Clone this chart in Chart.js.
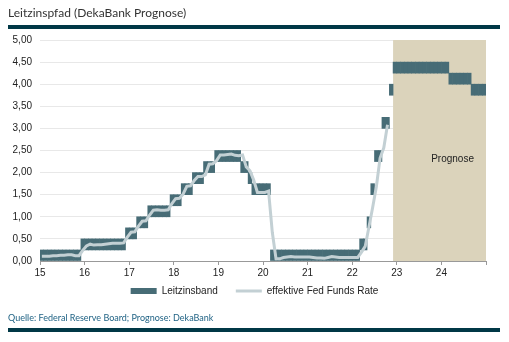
<!DOCTYPE html>
<html><head><meta charset="utf-8">
<script src="https://cdn.jsdelivr.net/npm/chart.js@4.4.1/dist/chart.umd.min.js"></script>
<style>
html,body{margin:0;padding:0;background:#fff;width:509px;height:342px;overflow:hidden;position:relative;}
#c{position:absolute;left:0;top:0;}
#title{position:absolute;left:8px;top:5px;font:12px Lato,sans-serif;color:#333;white-space:nowrap;}
.rule{position:absolute;left:8px;width:492px;height:4px;background:#003846;}
#src{position:absolute;left:8px;top:312px;font:9px Lato,sans-serif;color:#1f6284;white-space:nowrap;}
</style></head><body>
<canvas id="c" width="509" height="319"></canvas>
<div id="title">Leitzinspfad (DekaBank Prognose)</div>
<div class="rule" style="top:25px"></div>
<div id="src">Quelle: Federal Reserve Board; Prognose: DekaBank</div>
<div class="rule" style="top:328px"></div>
<script>
// Monthly values, Jan 2015 .. Dec 2024 (Leitzinsband lower / upper bound, %)
const bandLow = [
  0,0,0,0,0,0,0,0,0,0,0,0.25,
  0.25,0.25,0.25,0.25,0.25,0.25,0.25,0.25,0.25,0.25,0.25,0.5,
  0.5,0.5,0.75,0.75,0.75,1.0,1.0,1.0,1.0,1.0,1.0,1.25,
  1.25,1.25,1.5,1.5,1.5,1.75,1.75,1.75,2.0,2.0,2.0,2.25,
  2.25,2.25,2.25,2.25,2.25,2.25,2.0,2.0,1.75,1.5,1.5,1.5,
  1.5,1.5,0,0,0,0,0,0,0,0,0,0,
  0,0,0,0,0,0,0,0,0,0,0,0,
  0,0,0.25,0.25,0.75,1.5,2.25,2.25,3.0,3.0,3.75,4.25,
  4.25,4.25,4.25,4.25,4.25,4.25,4.25,4.25,4.25,4.25,4.25,4.25,
  4.25,4.25,4.0,4.0,4.0,4.0,4.0,4.0,3.75,3.75,3.75,3.75
];
const bandHigh = [
  0.25,0.25,0.25,0.25,0.25,0.25,0.25,0.25,0.25,0.25,0.25,0.5,
  0.5,0.5,0.5,0.5,0.5,0.5,0.5,0.5,0.5,0.5,0.5,0.75,
  0.75,0.75,1.0,1.0,1.0,1.25,1.25,1.25,1.25,1.25,1.25,1.5,
  1.5,1.5,1.75,1.75,1.75,2.0,2.0,2.0,2.25,2.25,2.25,2.5,
  2.5,2.5,2.5,2.5,2.5,2.5,2.25,2.25,2.0,1.75,1.75,1.75,
  1.75,1.75,0.25,0.25,0.25,0.25,0.25,0.25,0.25,0.25,0.25,0.25,
  0.25,0.25,0.25,0.25,0.25,0.25,0.25,0.25,0.25,0.25,0.25,0.25,
  0.25,0.25,0.5,0.5,1.0,1.75,2.5,2.5,3.25,3.25,4.0,4.5,
  4.5,4.5,4.5,4.5,4.5,4.5,4.5,4.5,4.5,4.5,4.5,4.5,
  4.5,4.5,4.25,4.25,4.25,4.25,4.25,4.25,4.0,4.0,4.0,4.0
];
// effektive Fed Funds Rate, monthly Jan 2015 .. Oct 2022
const fedFundsRate = [
  0.11,0.11,0.11,0.12,0.12,0.13,0.13,0.14,0.14,0.12,0.12,0.24,
  0.34,0.38,0.36,0.37,0.37,0.38,0.39,0.40,0.40,0.40,0.41,0.54,
  0.65,0.66,0.79,0.90,0.91,1.04,1.15,1.16,1.15,1.15,1.16,1.30,
  1.41,1.42,1.51,1.69,1.70,1.82,1.91,1.91,1.95,2.19,2.20,2.27,
  2.40,2.40,2.41,2.42,2.39,2.38,2.40,2.13,2.04,1.83,1.55,1.55,
  1.55,1.58,0.65,0.05,0.05,0.08,0.09,0.10,0.09,0.09,0.09,0.09,
  0.09,0.08,0.07,0.07,0.06,0.08,0.10,0.09,0.08,0.08,0.08,0.08,
  0.08,0.08,0.20,0.33,0.77,1.21,1.68,2.33,2.56,3.08
];
const xTickLabels = ['15','16','17','18','19','20','21','22','23','24'];
const firstYear = 15;          // axis value of Jan 2015
const prognoseStart = 22 + 11/12; // Dec 2022
const seriesNames = ['Leitzinsband', 'effektive Fed Funds Rate'];

const BAND = '#476c76', LINE = '#c3d0d4', SHADE = '#dbd3bb';
const monthX = i => firstYear + (i + 0.5) / 12;

const shadePlugin = {
  id: 'prognose',
  beforeDatasetsDraw(chart) {
    const {ctx, chartArea: a, scales: {x, y}} = chart;
    const x0 = x.getPixelForValue(prognoseStart);
    ctx.save();
    ctx.fillStyle = SHADE;
    ctx.fillRect(x0, a.top, a.right - x0, a.bottom - a.top);
    ctx.fillStyle = '#222';
    ctx.font = '10px "Liberation Sans", Arial, sans-serif';
    ctx.textAlign = 'center';
    ctx.textBaseline = 'middle';
    ctx.fillText('Prognose', x.getPixelForValue(24.25), y.getPixelForValue(2.3));
    ctx.restore();
  }
};
// move legend a little closer to the axis
const legendShift = {
  id: 'legendShift',
  afterLayout(chart) {
    const lg = chart.legend;
    if (lg) { lg.top -= 13; lg.bottom -= 13; }
  }
};

const font = {family: '"Liberation Sans", Arial, sans-serif', size: 10};
new Chart(document.getElementById('c'), {
  type: 'bar',
  data: {
    datasets: [
      {
        label: seriesNames[0],
        data: bandLow.map((lo, i) => ({x: monthX(i), y: [lo, bandHigh[i]]})),
        backgroundColor: BAND,
        borderWidth: 0,
        barPercentage: 1,
        categoryPercentage: 1,
        order: 1
      },
      {
        type: 'line',
        label: seriesNames[1],
        data: fedFundsRate.map((v, i) => ({x: monthX(i), y: v})),
        borderColor: LINE,
        borderWidth: 3,
        pointRadius: 0,
        tension: 0,
        fill: false,
        order: 0
      }
    ]
  },
  options: {
    responsive: false,
    animation: false,
    layout: {padding: {top: 40, left: 0, right: 0, bottom: 0}},
    plugins: {
      tooltip: {enabled: false},
      legend: {
        position: 'bottom',
        labels: {
          font, color: '#222', padding: 18,
          usePointStyle: true, pointStyleWidth: 26, boxHeight: 6,
          generateLabels: (chart) => [
            {text: chart.data.datasets[0].label, fillStyle: BAND, strokeStyle: BAND, lineWidth: 0, pointStyle: 'rect', datasetIndex: 0, hidden: false, fontColor: '#222'},
            {text: chart.data.datasets[1].label, fillStyle: LINE, strokeStyle: LINE, lineWidth: 3, pointStyle: 'line', datasetIndex: 1, hidden: false, fontColor: '#222'}
          ]
        }
      }
    },
    scales: {
      x: {
        type: 'linear', min: 15, max: 25, offset: false,
        grid: {display: true, drawOnChartArea: false, offset: false, tickLength: 4, color: '#999'},
        border: {display: true, color: '#999'},
        ticks: {stepSize: 1, font, color: '#222', padding: 2, maxRotation: 0, autoSkip: false,
          callback: v => xTickLabels[Math.round(v) - firstYear] ?? ''},
        afterFit: s => { s.height = 20; }
      },
      y: {
        min: 0, max: 5,
        grid: {color: '#e8e8e8', drawTicks: false},
        border: {display: false},
        ticks: {stepSize: 0.5, font, color: '#222', padding: 8,
          callback: v => v.toFixed(2).replace('.', ',')},
        afterFit: s => { s.width = 40; }
      },
      yR: {
        position: 'right', display: true,
        grid: {display: false}, border: {display: false}, ticks: {display: false},
        afterFit: s => { s.width = 23; }
      }
    }
  },
  plugins: [shadePlugin, legendShift]
});
</script>
</body></html>
